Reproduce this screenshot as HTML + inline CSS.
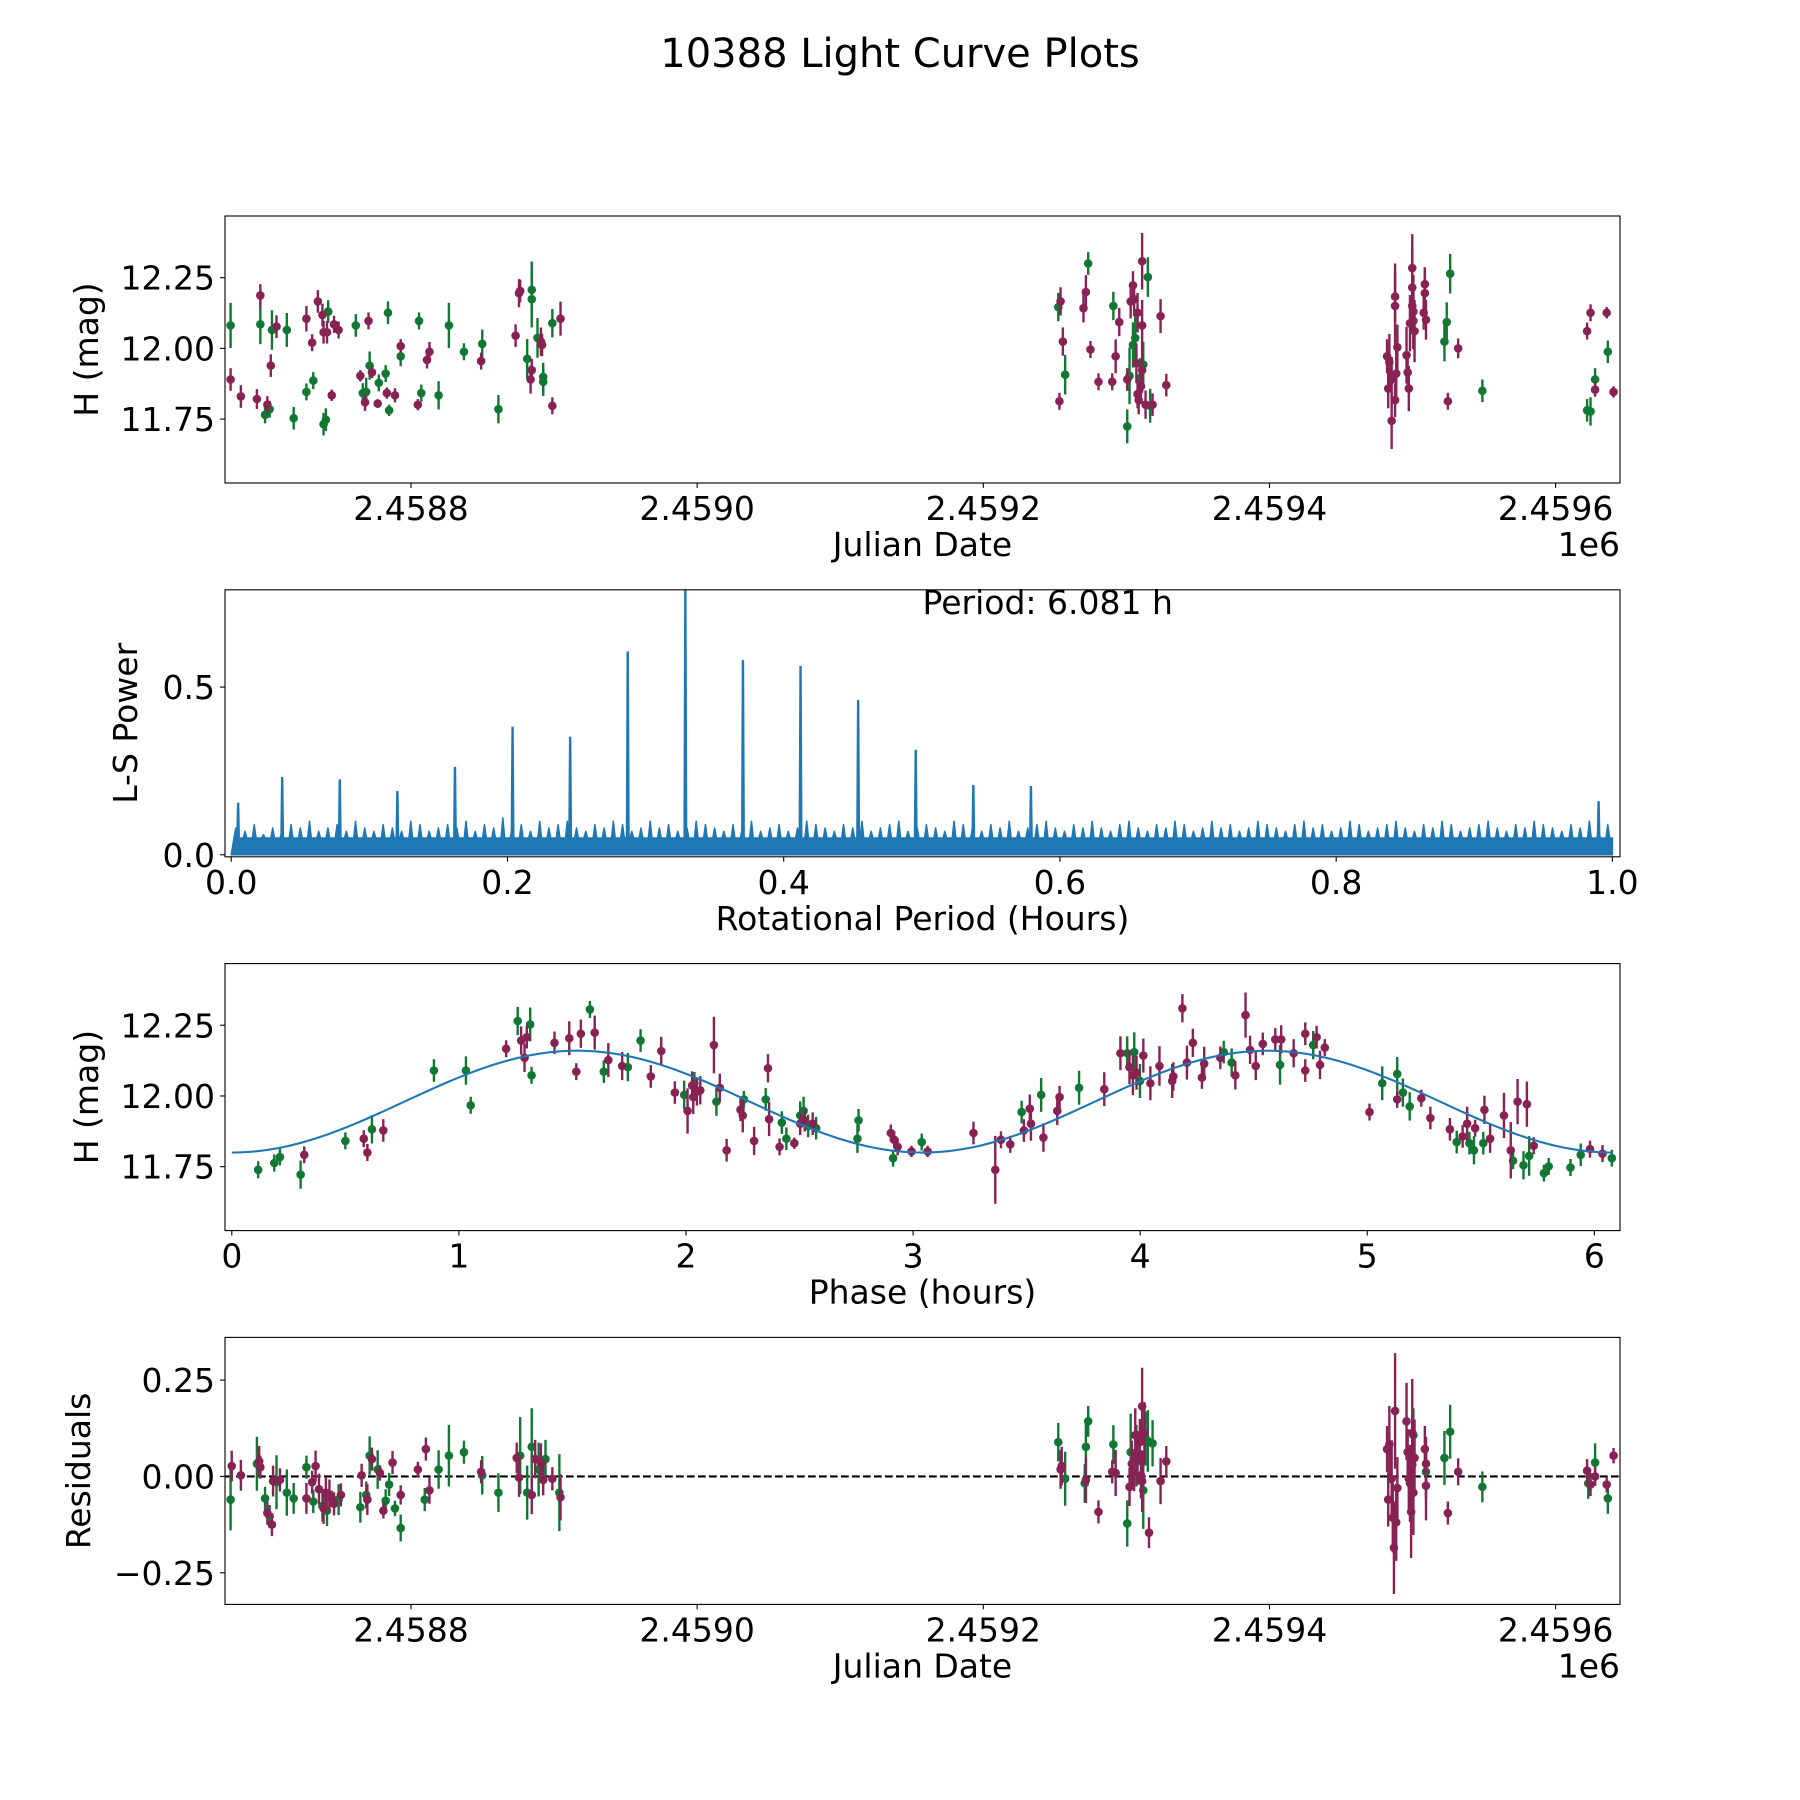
<!DOCTYPE html>
<html><head><meta charset="utf-8"><title>10388 Light Curve Plots</title>
<style>
html,body{margin:0;padding:0;background:#fff;}
svg{display:block;font-family:"DejaVu Sans","Liberation Sans",sans-serif;}
</style></head>
<body>
<svg id="fig" width="1800" height="1800" viewBox="0 0 1800 1800" xmlns="http://www.w3.org/2000/svg">
<rect width="1800" height="1800" fill="#fff"/>
<text x="900" y="67" font-size="40" text-anchor="middle">10388 Light Curve Plots</text>
</svg>
<script>
// ---------- Panel 1: light curve vs Julian Date (offset from 2458800) ----------
const p1MagJd=[-126.1,-118.9,-107.7,-105.3,-100.4,-98.0,-94.0,-73.1,-69.1,-65.1,-61.9,-61.1,-58.7,-55.4,-53.8,-50.6,-35.4,-29.7,-32.1,-27.3,-23.3,-16.9,-11.2,-7.2,4.8,11.2,12.9,49.0,73.1,75.5,76.3,84.4,83.6,90.8,91.6,98.8,104.5,
454.0,453.2,455.6,471.7,470.0,474.9,480.5,490.1,492.5,495.0,500.6,503.0,504.6,505.4,507.8,507.0,507.8,508.6,511.0,511.0,510.2,513.4,511.0,518.3,523.9,527.9,
682.2,683.0,683.8,685.4,685.4,687.8,687.8,687.8,688.6,689.4,695.8,696.6,697.4,698.2,699.8,699.8,700.6,701.4,699.8,700.6,708.6,708.6,709.4,707.8,724.7,731.9,
822.0,824.4,827.6,835.7,840.5];
const p1MagVal=[11.890,11.830,11.821,12.187,11.801,11.939,12.077,12.105,12.020,12.166,12.118,12.057,12.057,11.834,12.085,12.065,11.903,12.097,11.809,11.915,11.805,11.842,11.834,12.008,11.801,11.959,11.988,11.955,12.045,12.195,12.203,11.923,11.890,12.024,12.012,11.797,12.105,
12.166,11.813,12.024,12.199,12.142,11.996,11.882,11.882,11.972,12.093,11.890,12.166,12.223,12.174,12.126,11.947,11.838,11.817,12.081,11.923,11.866,11.801,12.308,11.801,12.114,11.870,
11.972,11.858,11.951,11.744,11.890,12.183,12.150,11.817,11.911,12.004,11.976,11.915,11.858,12.089,12.284,12.215,12.130,12.061,12.150,12.097,12.227,12.195,12.101,12.126,11.813,12.000,
12.061,12.126,11.854,12.126,11.846];
const p1MagErr=[.04,.04,.035,.04,.03,.04,.04,.045,.03,.04,.04,.04,.04,.02,.03,.03,.02,.03,.03,.02,.015,.02,.025,.025,.02,.03,.035,.03,.04,.05,.04,.04,.05,.05,.04,.03,.06,
.05,.03,.05,.06,.05,.03,.03,.03,.06,.05,.04,.06,.05,.06,.07,.07,.05,.05,.09,.08,.06,.05,.1,.04,.06,.04,
.06,.07,.1,.1,.08,.09,.15,.06,.1,.08,.1,.06,.08,.1,.12,.14,.13,.11,.1,.1,.06,.09,.07,.06,.03,.035,
.03,.03,.025,.02,.02];
const p1GrnJd=[-126.1,-105.3,-102.0,-98.8,-97.2,-86.8,-82.0,-73.1,-68.3,-61.1,-59.5,-57.9,-38.6,-33.7,-31.3,-28.9,-22.5,-17.7,-15.3,-16.1,-7.2,5.6,7.2,19.3,26.5,37.0,49.8,61.1,81.2,84.4,84.4,88.4,92.4,92.4,98.8,
452.4,457.2,473.3,490.9,500.6,502.2,504.6,506.2,509.4,511.8,515.0,516.6,
722.3,723.9,726.3,748.8,822.0,824.4,827.6,836.5];
const p1GrnVal=[12.081,12.085,11.765,11.785,12.065,12.065,11.753,11.846,11.886,11.732,11.748,12.130,12.081,11.842,11.846,11.939,11.878,11.911,11.781,12.126,11.972,12.097,11.842,11.834,12.081,11.988,12.016,11.785,11.963,12.207,12.174,12.037,11.882,11.899,12.089,
12.146,11.907,12.300,12.150,11.724,11.903,12.012,12.037,11.895,11.943,12.252,11.797,
12.024,12.093,12.264,11.850,11.781,11.777,11.890,11.988];
const p1GrnErr=[.08,.07,.03,.03,.07,.06,.04,.03,.03,.04,.04,.04,.04,.035,.05,.05,.03,.03,.02,.04,.035,.03,.03,.05,.08,.03,.05,.05,.07,.1,.1,.07,.05,.05,.05,
.05,.07,.04,.05,.06,.1,.08,.1,.07,.08,.07,.06,
.07,.07,.07,.04,.04,.05,.04,.04];

// ---------- Panel 2: Lomb-Scargle periodogram ----------
const lsPeakPeriod=[0.005,0.0369,0.0786,0.1203,0.162,0.2037,0.2454,0.2871,0.3288,0.3705,0.4122,0.4539,0.4956,0.5373,0.579,0.99];
const lsPeakPower=[0.155,0.232,0.225,0.19,0.262,0.382,0.352,0.606,0.80,0.581,0.563,0.462,0.313,0.208,0.205,0.16];
const lsNoisePower=[0.08,0.07,0.09,0.06,0.08,0.07,0.09,0.08,0.10,0.07,0.08,0.09,0.07,0.10,0.08,0.07,0.09,0.08,0.07,0.10,0.09,0.07,0.08,0.09,0.08,0.10,0.07,0.09,0.08,0.11,
0.08,0.09,0.07,0.10,0.08,0.09,0.10,0.08,0.07,0.09,0.08,0.10,0.09,0.07,0.08,0.10,0.08,0.09,0.07,0.08,0.10,0.09,0.08,0.07,0.09,0.08,0.10,0.07,0.08,0.09,
0.07,0.08,0.10,0.09,0.08,0.07,0.09,0.08,0.10,0.07,0.08,0.09,0.10,0.07,0.08,0.09,0.08,0.07,0.10,0.09,0.08,0.07,0.09,0.08,0.10,0.07,0.08,0.09,0.10,0.08,
0.07,0.09,0.08,0.10,0.08,0.07,0.09,0.10,0.08,0.07,0.09,0.08,0.10,0.09,0.07,0.08,0.10,0.08,0.09,0.07,0.08,0.10,0.09,0.08,0.07,0.09,0.10,0.08,0.09,0.07,
0.08,0.10,0.09,0.07,0.08,0.09,0.10,0.08,0.07,0.09,0.08,0.10,0.09,0.07,0.08,0.09,0.10,0.08,0.07,0.09,0.08,0.10,0.09,0.08,0.07,0.09,0.08,0.10,0.07,0.09];
const lsBaseLevel=0.05;
const lsPeriodText="Period: 6.081 h";

// ---------- Panel 3: phased light curve ----------
const p3MagPhase=[0.319,0.581,0.597,0.667,1.208,1.274,1.289,1.299,1.421,1.486,1.517,1.537,1.598,1.658,1.719,1.845,1.891,1.951,2.007,2.027,2.032,2.048,2.063,2.123,2.149,2.179,2.240,2.250,2.300,2.361,2.366,2.412,2.477,2.503,2.523,2.558,2.902,2.917,2.932,2.993,3.064,3.266,3.362,3.387,3.428,3.488,3.514,3.519,3.574,3.635,3.645,3.842,3.913,3.953,3.968,3.984,4.014,4.045,4.085,4.141,4.146,4.186,4.206,4.232,4.272,4.282,4.353,4.419,4.464,4.484,4.509,4.540,4.595,4.621,4.676,4.727,4.727,4.777,4.792,4.813,5.010,5.132,5.238,5.278,5.364,5.420,5.440,5.475,5.516,5.541,5.602,5.632,5.662,5.703,5.733,5.981,6.036];
const p3MagVal=[11.792,11.849,11.800,11.878,12.167,12.196,12.135,12.208,12.188,12.204,12.086,12.220,12.224,12.127,12.106,12.069,12.159,12.012,11.947,12.037,11.996,12.016,12.020,12.180,12.029,11.808,11.951,11.931,11.841,12.098,11.918,11.820,11.833,11.902,11.914,11.902,11.869,11.845,11.820,11.804,11.804,11.869,11.739,11.845,11.829,11.878,11.955,11.902,11.853,11.947,11.996,12.024,12.151,12.102,12.073,12.082,12.143,12.045,12.106,12.053,12.069,12.310,12.118,12.188,12.065,12.114,12.135,12.073,12.286,12.163,12.106,12.184,12.200,12.200,12.151,12.090,12.220,12.208,12.110,12.171,11.943,11.988,11.992,11.922,11.882,11.857,11.902,11.886,11.951,11.849,11.931,11.808,11.980,11.971,11.824,11.812,11.796];
const p3MagErr=[.03,.03,.03,.04,.03,.05,.05,.04,.04,.06,.03,.05,.06,.06,.05,.04,.05,.04,.08,.05,.06,.05,.05,.1,.05,.04,.04,.06,.05,.05,.06,.03,.02,.04,.04,.04,.03,.03,.03,.02,.02,.04,.12,.03,.03,.04,.05,.06,.05,.05,.04,.06,.06,.06,.07,.06,.06,.06,.07,.06,.05,.05,.06,.05,.04,.06,.04,.05,.08,.05,.05,.04,.04,.05,.05,.04,.04,.04,.05,.03,.03,.03,.03,.04,.04,.04,.06,.03,.05,.05,.08,.1,.08,.08,.03,.03,.03];
const p3GrnPhase=[0.116,0.187,0.212,0.303,0.500,0.617,0.890,1.031,1.052,1.259,1.314,1.320,1.577,1.638,1.744,1.800,1.992,2.037,2.134,2.255,2.351,2.422,2.442,2.503,2.518,2.538,2.573,2.760,2.755,2.912,3.038,3.478,3.564,3.731,3.943,3.974,3.999,4.368,4.403,4.616,4.762,5.066,5.132,5.157,5.187,5.394,5.450,5.470,5.511,5.642,5.688,5.713,5.778,5.799,5.895,5.940,6.077];
const p3GrnVal=[11.739,11.763,11.784,11.722,11.841,11.882,12.090,12.090,11.967,12.265,12.253,12.073,12.306,12.086,12.102,12.196,12.004,12.045,11.980,11.988,11.988,11.906,11.849,11.931,11.947,11.894,11.886,11.914,11.849,11.780,11.837,11.943,12.004,12.029,12.151,12.155,12.053,12.155,12.118,12.110,12.180,12.045,12.078,12.012,11.963,11.837,11.833,11.808,11.833,11.771,11.755,11.788,11.727,11.751,11.747,11.792,11.780];
const p3GrnErr=[.03,.03,.03,.05,.03,.05,.04,.05,.03,.05,.06,.03,.03,.04,.05,.04,.05,.04,.05,.03,.04,.04,.04,.05,.05,.04,.04,.04,.05,.03,.03,.04,.06,.06,.06,.07,.06,.04,.05,.07,.05,.06,.06,.05,.05,.04,.04,.05,.04,.03,.05,.07,.03,.03,.03,.04,.03];
const fitParams=[11.98,0.18,6.081]; // mean, semi-amplitude, period (h); double-peaked

// ---------- Panel 4: residuals vs Julian Date ----------
const p4MagJd=[-125.3,-118.9,-106.1,-105.3,-100.4,-97.2,-96.4,-91.6,-73.1,-69.1,-66.7,-64.3,-61.1,-59.5,-57.0,-55.4,-53.8,-49.0,-34.5,-30.5,-27.3,-21.7,-19.3,-12.9,-7.2,4.8,10.4,12.9,49.0,73.9,75.5,84.4,86.8,90.8,92.4,98.8,104.5,
454.0,454.8,471.7,480.5,490.1,492.5,502.2,503.8,505.4,506.2,507.8,509.4,510.2,511.0,511.0,512.6,515.8,523.9,527.9,
682.2,683.0,683.8,685.4,686.2,687.0,687.8,688.6,689.4,695.8,696.6,697.4,698.2,699.0,699.8,699.8,700.6,701.4,708.6,709.4,709.4,724.7,731.9,
822.0,824.4,827.6,835.7,840.5];
const p4MagRes=[0.027,0.003,0.039,0.024,-0.095,-0.125,-0.012,-0.009,-0.057,-0.015,0.027,-0.033,-0.083,-0.042,-0.048,-0.057,-0.071,-0.048,0.003,-0.060,0.045,0.009,-0.089,0.036,-0.048,0.018,0.071,-0.036,0.012,0.048,-0.003,-0.048,0.045,0.036,-0.009,-0.006,-0.054,
0.018,0.027,-0.009,-0.092,0.012,0.009,-0.027,0.033,0.012,0.107,0.048,0.089,0.003,0.182,-0.012,0.113,-0.146,-0.012,0.039,
0.071,-0.060,0.083,-0.006,-0.107,-0.185,0.170,-0.119,-0.030,0.143,0.063,-0.006,-0.018,-0.092,0.113,0.030,-0.042,0.048,0.071,0.033,-0.024,-0.095,0.012,
0.015,-0.021,0.000,-0.021,0.054];
const p4MagErr=[.04,.04,.04,.03,.03,.03,.04,.03,.04,.03,.04,.04,.04,.04,.04,.02,.03,.03,.03,.04,.03,.02,.02,.03,.025,.02,.03,.035,.03,.04,.05,.05,.05,.05,.04,.03,.06,
.05,.05,.06,.03,.03,.06,.05,.06,.05,.07,.07,.06,.06,.1,.08,.08,.04,.06,.04,
.06,.07,.1,.1,.09,.12,.15,.1,.08,.1,.06,.08,.1,.12,.14,.13,.11,.1,.06,.07,.09,.03,.035,
.03,.03,.025,.02,.02];
const p4GrnJd=[-126.1,-107.7,-102.0,-98.8,-94.0,-86.8,-82.0,-73.1,-68.3,-61.9,-58.7,-50.6,-35.4,-31.3,-28.9,-23.3,-17.7,-15.3,-11.2,-7.2,9.6,19.3,26.5,37.0,49.8,61.1,76.3,81.2,84.4,89.2,94.0,103.7,
452.4,457.2,471.7,473.3,470.9,490.9,500.6,503.0,507.0,511.8,513.4,515.0,518.3,
709.4,700.6,722.3,726.3,748.8,822.8,827.6,836.5];
const p4GrnRes=[-0.060,0.033,-0.057,-0.104,-0.015,-0.042,-0.057,0.024,-0.065,-0.077,-0.089,-0.060,-0.080,-0.048,0.054,0.018,-0.063,-0.021,-0.083,-0.134,-0.060,0.018,0.054,0.063,0.003,-0.042,0.054,-0.042,0.077,0.018,0.045,-0.042,
0.089,-0.006,0.077,0.143,-0.018,0.083,-0.122,0.063,0.054,-0.036,0.098,0.092,0.086,
0.012,0.107,0.048,0.116,-0.027,-0.018,0.036,-0.057];
const p4GrnErr=[.08,.07,.03,.03,.07,.06,.04,.03,.03,.04,.04,.04,.04,.035,.05,.05,.03,.03,.02,.035,.03,.05,.08,.03,.05,.05,.1,.07,.1,.07,.05,.1,
.05,.07,.06,.04,.05,.05,.06,.1,.08,.1,.07,.08,.06,
.07,.07,.07,.07,.04,.04,.05,.04];

// ---------- axes tick data ----------
const jdTickVals=[0,200,400,600,800];
const jdTickLabels=["2.4588","2.4590","2.4592","2.4594","2.4596"];
const magTickVals=[11.75,12.00,12.25];
const magTickLabels=["11.75","12.00","12.25"];
const lsXTickVals=[0,0.2,0.4,0.6,0.8,1.0];
const lsXTickLabels=["0.0","0.2","0.4","0.6","0.8","1.0"];
const lsYTickVals=[0,0.5];
const lsYTickLabels=["0.0","0.5"];
const phaseTickVals=[0,1,2,3,4,5,6];
const phaseTickLabels=["0","1","2","3","4","5","6"];
const resTickVals=[-0.25,0,0.25];
const resTickLabels=["\u22120.25","0.00","0.25"];

const MAG="#882255", GRN="#117733", BLUE="#1f77b4";
const NS="http://www.w3.org/2000/svg";
const svg=document.getElementById('fig');
const L=225, W=1395, H=267, FS=33;
function el(tag,attrs,parent){const e=document.createElementNS(NS,tag);for(const k in attrs)e.setAttribute(k,attrs[k]);(parent||svg).appendChild(e);return e;}
function makeAxis(top,xmin,xmax,ymin,ymax){
  return {top:top,sx:v=>L+(v-xmin)/(xmax-xmin)*W,sy:v=>top+H-(v-ymin)/(ymax-ymin)*H};
}
function drawFrame(ax,name,xt,xl,yt,yl,xlabel,ylabel,ylabelX){
  const g=el('g',{});
  
  
  const r=el('rect',{x:L,y:ax.top,width:W,height:H,fill:'none',stroke:'#000','stroke-width':1.1},g);
  
  
  xt.forEach((v,i)=>{const x=ax.sx(v);
    const t=el('line',{x1:x,x2:x,y1:ax.top+H,y2:ax.top+H+4.9,stroke:'#000','stroke-width':1.1},g);
    
    
    const tx=el('text',{x:x,y:ax.top+H+37,'font-size':FS,'text-anchor':'middle'},g);tx.textContent=xl[i];
    
    });
  yt.forEach((v,i)=>{const y=ax.sy(v);
    const t=el('line',{x1:L-4.9,x2:L,y1:y,y2:y,stroke:'#000','stroke-width':1.1},g);
    
    
    const tx=el('text',{x:L-10,y:y+12,'font-size':FS,'text-anchor':'end'},g);tx.textContent=yl[i];
    
    });
  const xlab=el('text',{x:L+W/2,y:ax.top+H+73,'font-size':FS,'text-anchor':'middle'},g);xlab.textContent=xlabel;
  
  
  const cy=ax.top+H/2;
  const ylab=el('text',{x:ylabelX,y:cy,'font-size':FS,'text-anchor':'middle',transform:`rotate(-90 ${ylabelX} ${cy})`},g);ylab.textContent=ylabel;
  
  
}
function drawErr(ax,xs,ys,es,color,name){
  const g=el('g',{'clip-path':'url(#clip-'+name+')'});
  
  
  xs.forEach((x,i)=>{const px=ax.sx(x);
    const ln=el('line',{x1:px,x2:px,y1:ax.sy(ys[i]-es[i]),y2:ax.sy(ys[i]+es[i]),stroke:color,'stroke-width':2.4},g);
    
    
    const c=el('circle',{cx:px,cy:ax.sy(ys[i]),r:4.3,fill:color},g);
    
    });
}
const defs=el('defs',{});
function clip(name,top){const cp=el('clipPath',{id:'clip-'+name},defs);el('rect',{x:L,y:top,width:W,height:H},cp);}

// Panel 1
const ax1=makeAxis(216,-130,845,11.524,12.468);clip('p1-mag',216);clip('p1-grn',216);
drawErr(ax1,p1GrnJd,p1GrnVal,p1GrnErr,GRN,'p1-grn');
drawErr(ax1,p1MagJd,p1MagVal,p1MagErr,MAG,'p1-mag');
drawFrame(ax1,'lightcurve',jdTickVals,jdTickLabels,magTickVals,magTickLabels,'Julian Date','H (mag)',98);
const off1=el('text',{x:L+W,y:216+H+73,'font-size':FS,'text-anchor':'end'});off1.textContent='1e6';



// Panel 2
const ax2=makeAxis(589.8,-0.0045,1.0055,-0.006,0.79);clip('ls',589.8);
const lsg=el('g',{'clip-path':'url(#clip-ls)'});


const nN=lsNoisePower.length, step=1/nN;
let pts=[[ax2.sx(0),ax2.sy(0)]];
lsNoisePower.forEach((v,i)=>{const x0=i*step;
  pts.push([ax2.sx(x0+step*0.3),ax2.sy(lsBaseLevel)]);pts.push([ax2.sx(x0+step*0.5),ax2.sy(v)]);pts.push([ax2.sx(x0+step*0.7),ax2.sy(lsBaseLevel)]);});
pts.push([ax2.sx(1),ax2.sy(lsBaseLevel)]);pts.push([ax2.sx(1),ax2.sy(0)]);
const band=el('polygon',{points:pts.map(p=>p.join(',')).join(' '),fill:BLUE,stroke:BLUE,'stroke-width':1.5,'stroke-linejoin':'round'},lsg);


lsPeakPeriod.forEach((p,i)=>{const x=ax2.sx(p);
  const s=el('polygon',{points:`${x-2},${ax2.sy(0.03)} ${x-1.2},${ax2.sy(lsPeakPower[i])} ${x+1.2},${ax2.sy(lsPeakPower[i])} ${x+2},${ax2.sy(0.03)}`,fill:BLUE},lsg);
  
  });
drawFrame(ax2,'periodogram',lsXTickVals,lsXTickLabels,lsYTickVals,lsYTickLabels,'Rotational Period (Hours)','L-S Power',137);
const pt=el('text',{x:L+W/2,y:614,'font-size':FS,'text-anchor':'start'});pt.textContent=lsPeriodText;



// Panel 3
const ax3=makeAxis(963.6,-0.030,6.113,11.524,12.468);clip('p3-grn',963.6);clip('p3-mag',963.6);clip('p3-fit',963.6);
drawErr(ax3,p3GrnPhase,p3GrnVal,p3GrnErr,GRN,'p3-grn');
drawErr(ax3,p3MagPhase,p3MagVal,p3MagErr,MAG,'p3-mag');
let fp=[];for(let k=0;k<=300;k++){const p=fitParams[2]*k/300;
  fp.push(ax3.sx(p)+','+ax3.sy(fitParams[0]-fitParams[1]*Math.cos(4*Math.PI*p/fitParams[2])));}
const fit=el('polyline',{points:fp.join(' '),fill:'none',stroke:BLUE,'stroke-width':2.1,'clip-path':'url(#clip-p3-fit)'});


drawFrame(ax3,'phased',phaseTickVals,phaseTickLabels,magTickVals,magTickLabels,'Phase (hours)','H (mag)',98);

// Panel 4
const ax4=makeAxis(1337.4,-130,845,-0.3321,0.3609);clip('p4-grn',1337.4);clip('p4-mag',1337.4);
const zl=el('line',{x1:L,x2:L+W,y1:ax4.sy(0),y2:ax4.sy(0),stroke:'#000','stroke-width':2.1,'stroke-dasharray':'7.7,3.3'});


drawErr(ax4,p4GrnJd,p4GrnRes,p4GrnErr,GRN,'p4-grn');
drawErr(ax4,p4MagJd,p4MagRes,p4MagErr,MAG,'p4-mag');
drawFrame(ax4,'residuals',jdTickVals,jdTickLabels,resTickVals,resTickLabels,'Julian Date','Residuals',90);
const off4=el('text',{x:L+W,y:1337.4+H+73,'font-size':FS,'text-anchor':'end'});off4.textContent='1e6';


</script>
</body></html>
